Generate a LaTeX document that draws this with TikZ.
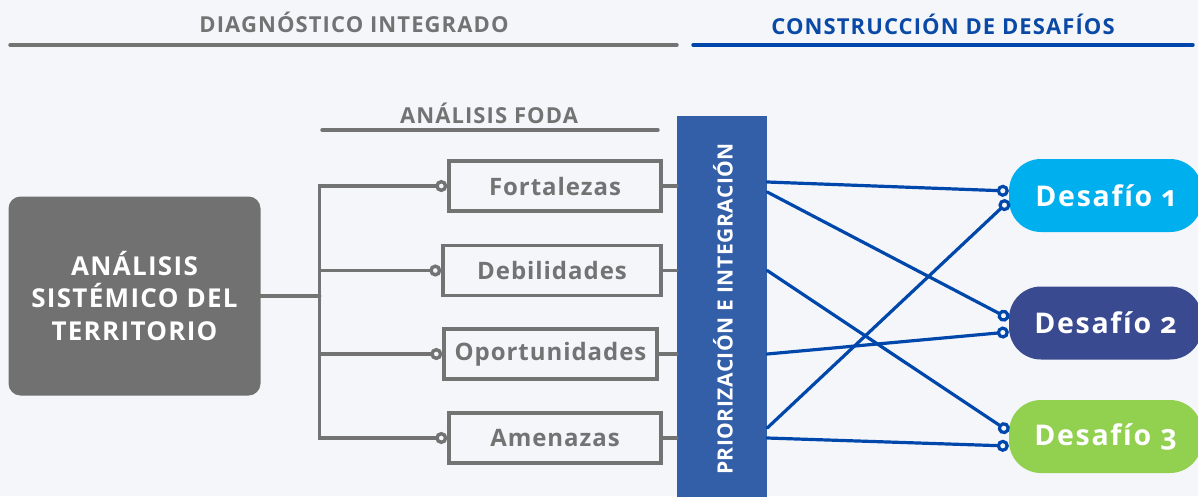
\documentclass[tikz,border=0pt]{standalone}
\usepackage{fontspec}
\setmainfont{Open Sans}
\newfontfamily\wide{Open Sans}[Numbers=OldStyle]
\usepackage{xcolor}
\usepackage{tikz}
\usetikzlibrary{arrows.meta, positioning}
\definecolor{paper}{HTML}{F4F6FA}
\definecolor{ash}{HTML}{737373}
\definecolor{ashfill}{HTML}{717171}
\definecolor{navy}{HTML}{0A4AA6}
\definecolor{barblue}{HTML}{335EA8}
\definecolor{linkblue}{HTML}{0047AB}
\definecolor{retoA}{HTML}{00B0EE}
\definecolor{retoB}{HTML}{3A4A90}
\definecolor{retoC}{HTML}{92D050}

\begin{document}
\begin{tikzpicture}[x=1pt, y=-1pt, >={Circle[open,length=12pt,width=12pt]},
                    line cap=round]
\tikzstyle{heading}=[inner sep=0pt,
                  font=\wide\addfontfeatures{LetterSpace=5}\bfseries\fontsize{22}{26}\selectfont]
\tikzstyle{foda}=[draw=ash, line width=3.4pt, minimum height=50pt, inner sep=0pt, text=ash,
                  font=\wide\addfontfeatures{LetterSpace=4}\bfseries\fontsize{24}{28}\selectfont]
\tikzstyle{reto}=[rounded corners=32pt, minimum width=193pt, minimum height=73pt,
                  inner sep=0pt, text=white,
                  font=\wide\addfontfeatures{LetterSpace=6}\bfseries\fontsize{28.5}{32}\selectfont]
\tikzstyle{ashlink}=[draw=ash, line width=3.4pt]
\tikzstyle{bluelink}=[draw=linkblue, line width=3.2pt, ->]
  \useasboundingbox (0,0) rectangle (1198,496);
  \fill[paper] (0,0) rectangle (1198,496);
  \clip (0,0) rectangle (1198,496);

  \node[heading, text=ash]  (diag) at (354,22)  {DIAGNÓSTICO INTEGRADO};
  \node[heading, text=navy] (cons) at (943,24)  {CONSTRUCCIÓN DE DESAFÍOS};
  \node[heading, text=ash]  (fodah) at (489,113) {ANÁLISIS FODA};
  \draw[ashlink] (10,45) -- (677,45);
  \draw[linkblue, line width=3.4pt] (693,45) -- (1193,45);
  \draw[ashlink] (322,130) -- (658,130);

  \node[fill=ashfill, rounded corners=12pt, minimum width=252pt, minimum height=199pt,
        align=center, text=white,
        font=\wide\addfontfeatures{LetterSpace=5}\bfseries\fontsize{26}{32.5}\selectfont]
        (ast) at (134.5,296) {ANÁLISIS\\SISTÉMICO DEL\\TERRITORIO};

  \node[foda, minimum width=212pt] (fort) at (555,186)   {Fortalezas};
  \node[foda, minimum width=218pt] (deb)  at (552,270.5) {Debilidades};
  \node[foda, minimum width=213pt] (opo)  at (550.5,354) {Oportunidades};
  \node[foda, minimum width=212pt] (ame)  at (555,438)   {Amenazas};

  \node[fill=barblue, minimum width=90pt, minimum height=390pt, inner sep=0pt]
        (bar) at (722,311) {};
  \node[rotate=90, text=white,
        font=\wide\addfontfeatures{LetterSpace=2.5}\bfseries\fontsize{21}{24}\selectfont]
        (barlabel) at (723,309) {PRIORIZACIÓN E INTEGRACIÓN};

  \node[reto, fill=retoA] (d1) at (1105.5,195.5) {Desafío 1};
  \node[reto, fill=retoB] (d2) at (1105.5,323)   {Desafío 2};
  \node[reto, fill=retoC] (d3) at (1105.5,436.5) {Desafío 3};

  \coordinate (fork) at ([xshift=59pt]ast.east);
  \draw[ashlink] (ast.east) -- (fork);
  \draw[ashlink, ->] (fork) |- (fort);
  \draw[ashlink, ->] (fork) |- (deb);
  \draw[ashlink, ->] (fork) |- (opo);
  \draw[ashlink, ->] (fork) |- (ame);
  \draw[ashlink] (fort.east) -- (fort.east -| bar.west);
  \draw[ashlink] (deb.east)  -- (deb.east -| bar.west);
  \draw[ashlink] (opo.east)  -- (opo.east -| bar.west);
  \draw[ashlink] (ame.east)  -- (ame.east -| bar.west);

  \draw[bluelink] ([yshift=4pt]bar.east |- fort.east)  -- ([yshift=4.5pt]d1.west);
  \draw[bluelink] ([yshift=-6pt]bar.east |- fort.east) -- ([yshift=4.5pt]d2.west);
  \draw[bluelink] (bar.east |- deb.east)               -- ([yshift=5pt]d3.west);
  \draw[bluelink] (bar.east |- opo.east)               -- ([yshift=-9pt]d2.west);
  \draw[bluelink] ([yshift=10pt]bar.east |- ame.east)  -- ([yshift=-5.5pt]d1.west);
  \draw[bluelink] (bar.east |- ame.east)               -- ([yshift=-9.5pt]d3.west);
\end{tikzpicture}
\end{document}
